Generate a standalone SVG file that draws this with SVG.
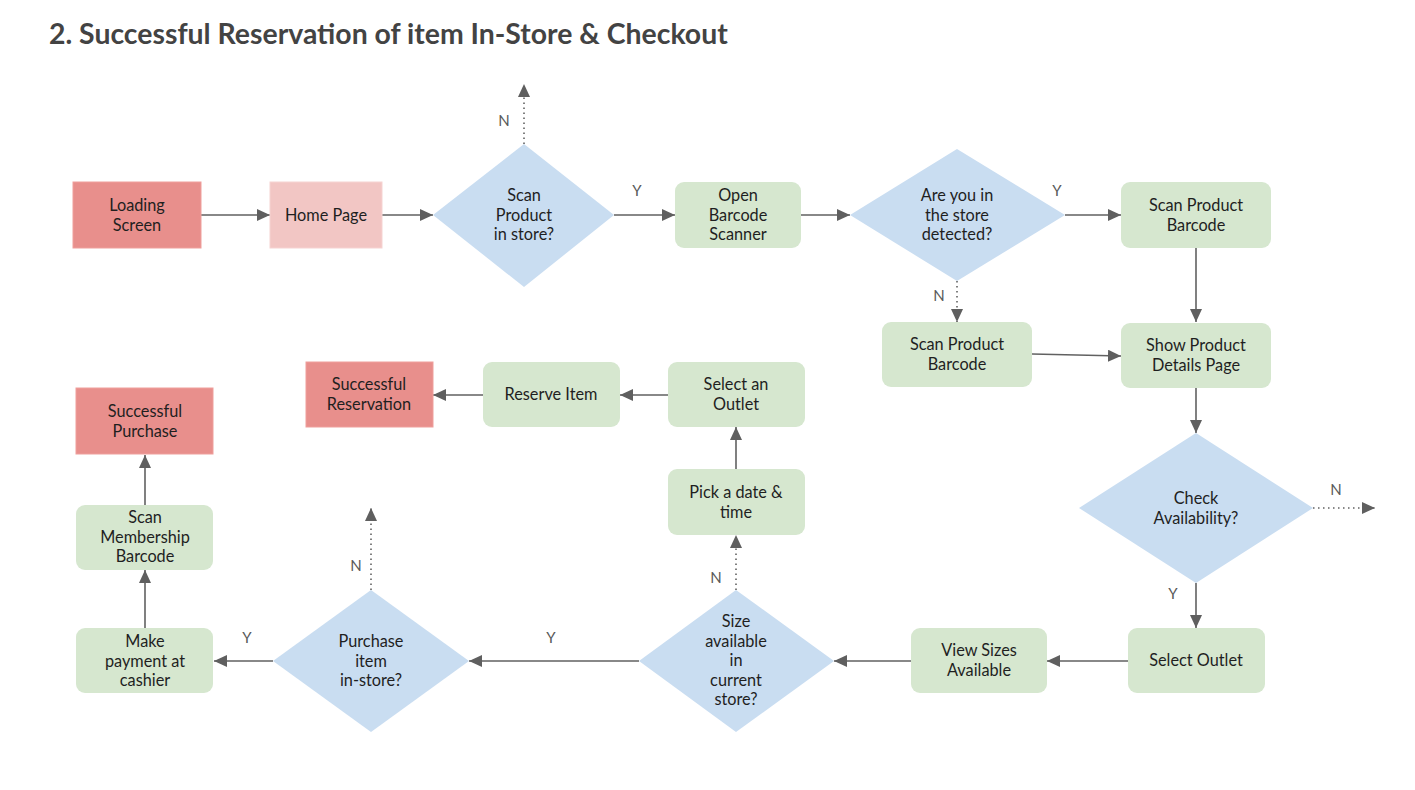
<svg xmlns="http://www.w3.org/2000/svg" width="1415" height="790" viewBox="0 0 1415 790">
<style>
.t{font-family:Lato,"Open Sans","Liberation Sans",sans-serif;font-size:16.3px;fill:#1f1f1f;text-anchor:middle}
.lbl{font-family:Lato,"Open Sans","Liberation Sans",sans-serif;font-size:15px;fill:#595959;text-anchor:middle}
.title{font-family:Lato,"Open Sans","Liberation Sans",sans-serif;font-size:28.4px;font-weight:700;fill:#434343}
.red{fill:#e88f8c;stroke:#ef9f9c;stroke-width:1}
.pink{fill:#f2c6c4;stroke:#f6d3d2;stroke-width:1}
.green{fill:#d6e7cf}
.blue{fill:#c9ddf1}
.c{stroke:#616161;stroke-width:1.6;fill:none;marker-end:url(#ah)}
.d{stroke:#616161;stroke-width:1.6;fill:none;stroke-dasharray:1.5 3.5;marker-end:url(#ah)}
</style>
<defs>
<marker id="ah" markerUnits="userSpaceOnUse" markerWidth="14" markerHeight="12" refX="13" refY="6" orient="auto">
<path d="M0,0 L13,6 L0,12 z" fill="#5f5f5f"/>
</marker>
</defs>
<rect width="1415" height="790" fill="#ffffff"/>
<text class="title" x="49" y="44">2. Successful Reservation of item In-Store &amp; Checkout</text>

<g id="connectors">
<line class="c" x1="201" y1="215" x2="270" y2="215"/>
<line class="c" x1="382" y1="215" x2="433" y2="215"/>
<line class="d" x1="524" y1="144" x2="524" y2="84"/>
<line class="c" x1="614" y1="215" x2="675" y2="215"/>
<line class="c" x1="801" y1="215" x2="850" y2="215"/>
<line class="c" x1="1065" y1="215" x2="1121" y2="215"/>
<line class="c" x1="1196" y1="248" x2="1196" y2="322"/>
<line class="d" x1="957" y1="281" x2="957" y2="322"/>
<line class="c" x1="1032" y1="354" x2="1121" y2="356"/>
<line class="c" x1="1196" y1="388" x2="1196" y2="433"/>
<line class="d" x1="1313" y1="508" x2="1375" y2="508"/>
<line class="c" x1="1196" y1="583" x2="1196" y2="628"/>
<line class="c" x1="1128" y1="661" x2="1047" y2="661"/>
<line class="c" x1="911" y1="661" x2="834" y2="661"/>
<line class="d" x1="736" y1="590" x2="736" y2="535"/>
<line class="c" x1="736" y1="469" x2="736" y2="427"/>
<line class="c" x1="668" y1="395" x2="620" y2="395"/>
<line class="c" x1="483" y1="395" x2="433" y2="395"/>
<line class="c" x1="639" y1="661" x2="469" y2="661"/>
<line class="d" x1="371" y1="590" x2="371" y2="508"/>
<line class="c" x1="273" y1="661" x2="214" y2="661"/>
<line class="c" x1="145" y1="628" x2="145" y2="570"/>
<line class="c" x1="145" y1="505" x2="145" y2="455"/>
<text class="lbl" x="504" y="126">N</text>
<text class="lbl" x="637" y="196">Y</text>
<text class="lbl" x="1057" y="196">Y</text>
<text class="lbl" x="939" y="301">N</text>
<text class="lbl" x="1336" y="495">N</text>
<text class="lbl" x="1173" y="599">Y</text>
<text class="lbl" x="716" y="583">N</text>
<text class="lbl" x="551" y="643">Y</text>
<text class="lbl" x="356" y="571">N</text>
<text class="lbl" x="247" y="643">Y</text>
</g>

<g id="loading"><rect class="red" x="73" y="182" width="128" height="66"/><text class="t" x="137" y="211">Loading</text><text class="t" x="137" y="230.5">Screen</text></g>
<g id="home"><rect class="pink" x="270" y="182" width="112" height="66"/><text class="t" x="326" y="221">Home Page</text></g>
<g id="scanInStore"><polygon class="blue" points="524,144 614,215 524,287 433,215"/><text class="t" x="524" y="201">Scan</text><text class="t" x="524" y="220.5">Product</text><text class="t" x="524" y="240">in store?</text></g>
<g id="openScanner"><rect class="green" x="675" y="182" width="126" height="66" rx="9"/><text class="t" x="738" y="201">Open</text><text class="t" x="738" y="220.5">Barcode</text><text class="t" x="738" y="240">Scanner</text></g>
<g id="inStore"><polygon class="blue" points="957,149 1065,215 957,281 850,215"/><text class="t" x="957" y="201">Are you in</text><text class="t" x="957" y="220.5">the store</text><text class="t" x="957" y="240">detected?</text></g>
<g id="scanBarcode1"><rect class="green" x="1121" y="182" width="150" height="66" rx="9"/><text class="t" x="1196" y="211">Scan Product</text><text class="t" x="1196" y="230.5">Barcode</text></g>
<g id="scanBarcode2"><rect class="green" x="882" y="322" width="150" height="65" rx="9"/><text class="t" x="957" y="350">Scan Product</text><text class="t" x="957" y="369.5">Barcode</text></g>
<g id="details"><rect class="green" x="1121" y="323" width="150" height="65" rx="9"/><text class="t" x="1196" y="351">Show Product</text><text class="t" x="1196" y="370.5">Details Page</text></g>
<g id="checkAvail"><polygon class="blue" points="1196,433 1313,508 1196,583 1079,508"/><text class="t" x="1196" y="504">Check</text><text class="t" x="1196" y="523.5">Availability?</text></g>
<g id="selectOutlet"><rect class="green" x="1128" y="628" width="137" height="65" rx="9"/><text class="t" x="1196" y="666">Select Outlet</text></g>
<g id="viewSizes"><rect class="green" x="911" y="628" width="136" height="65" rx="9"/><text class="t" x="979" y="656">View Sizes</text><text class="t" x="979" y="675.5">Available</text></g>
<g id="sizeAvail"><polygon class="blue" points="736,590 834,661 736,732 639,661"/><text class="t" x="736" y="627">Size</text><text class="t" x="736" y="646.5">available</text><text class="t" x="736" y="666">in</text><text class="t" x="736" y="685.5">current</text><text class="t" x="736" y="705">store?</text></g>
<g id="pickDate"><rect class="green" x="668" y="469" width="137" height="66" rx="9"/><text class="t" x="736" y="498">Pick a date &amp;</text><text class="t" x="736" y="517.5">time</text></g>
<g id="selectAnOutlet"><rect class="green" x="668" y="362" width="137" height="65" rx="9"/><text class="t" x="736" y="390">Select an</text><text class="t" x="736" y="409.5">Outlet</text></g>
<g id="reserve"><rect class="green" x="483" y="362" width="137" height="65" rx="9"/><text class="t" x="551" y="400">Reserve Item</text></g>
<g id="successReservation"><rect class="red" x="306" y="362" width="127" height="65"/><text class="t" x="369" y="390">Successful</text><text class="t" x="369" y="409.5">Reservation</text></g>
<g id="purchaseInStore"><polygon class="blue" points="371,590 469,661 371,732 273,661"/><text class="t" x="371" y="647">Purchase</text><text class="t" x="371" y="666.5">item</text><text class="t" x="371" y="686">in-store?</text></g>
<g id="payment"><rect class="green" x="76" y="628" width="137" height="65" rx="9"/><text class="t" x="145" y="647">Make</text><text class="t" x="145" y="666.5">payment at</text><text class="t" x="145" y="686">cashier</text></g>
<g id="membership"><rect class="green" x="76" y="505" width="137" height="65" rx="9"/><text class="t" x="145" y="523">Scan</text><text class="t" x="145" y="542.5">Membership</text><text class="t" x="145" y="562">Barcode</text></g>
<g id="successPurchase"><rect class="red" x="76" y="388" width="137" height="66"/><text class="t" x="145" y="417">Successful</text><text class="t" x="145" y="436.5">Purchase</text></g>
</svg>
